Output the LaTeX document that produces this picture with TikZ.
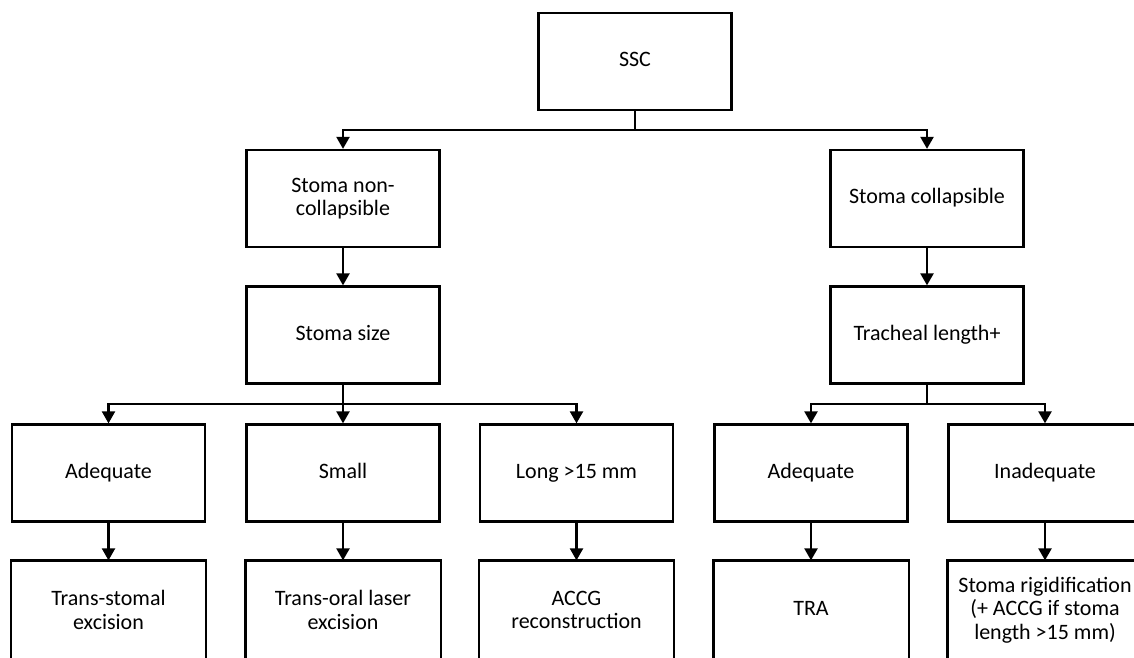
\documentclass[tikz,border=0pt]{standalone}
\usepackage{fontspec}
\setmainfont{Carlito}
\usetikzlibrary{arrows.meta}
\begin{document}
\begin{tikzpicture}[x=1pt,y=-1pt,
  box/.style={draw,line width=2.3pt,minimum width=193pt,minimum height=97pt,align=center,inner sep=0pt,
    font=\fontsize{22}{23.5}\selectfont},
  one/.style={text height=15pt,text depth=5pt},
  lowbox/.style={box,draw=none},
  arr/.style={line width=2.3pt,-{Triangle[width=13pt,length=12pt]}},
  ln/.style={line width=2.3pt}]
\clip (0,0) rectangle (1134,657);
\fill[white] (0,0) rectangle (1134,657);
\node[box,one] (ssc) at (635,61.5) {SSC};
\node[box] (snc) at (343,198.5) {Stoma non-\\collapsible};
\node[box,one] (sc) at (927,198.5) {Stoma collapsible};
\node[box,one] (ssize) at (343,335) {Stoma size};
\node[box,one] (tl) at (927,335) {Tracheal length+};
\node[box,one] (ad1) at (108.5,473) {Adequate};
\node[box,one] (small) at (343,473) {Small};
\node[box,one] (long) at (576.5,473) {Long >15 mm};
\node[box,one] (ad2) at (811,473) {Adequate};
\node[box,one] (inad) at (1045,473) {Inadequate};
\node[lowbox] (tse) at (108.5,610) {Trans-stomal\\excision};
\node[lowbox] (tole) at (343,610) {Trans-oral laser\\excision};
\node[lowbox] (accg) at (576.5,610) {ACCG\\reconstruction};
\node[lowbox,one] (tra) at (811,610) {TRA};
\node[lowbox] (rig) at (1045,610) {Stoma rigidification\\(+ ACCG if stoma\\length >15 mm)};
\foreach \n in {tse,tole,accg,tra,rig}
  \draw[ln] (\n.north west) rectangle ([yshift=-15pt]\n.south east);
\coordinate (b1) at (635,130);
\coordinate (b2) at (343,404);
\coordinate (b3) at (927,404);
\draw[ln] (ssc.south) -- (b1);
\draw[arr] (b1) -| (snc.north);
\draw[arr] (b1) -| (sc.north);
\draw[arr] (snc) -- (ssize);
\draw[arr] (sc) -- (tl);
\draw[arr] (ssize.south) -- (small.north);
\draw[arr] (b2) -| (ad1.north);
\draw[arr] (b2) -| (long.north);
\draw[ln] (tl.south) -- (b3);
\draw[arr] (b3) -| (ad2.north);
\draw[arr] (b3) -| (inad.north);
\draw[arr] (ad1) -- (tse);
\draw[arr] (small) -- (tole);
\draw[arr] (long) -- (accg);
\draw[arr] (ad2) -- (tra);
\draw[arr] (inad) -- (rig);
\end{tikzpicture}
\end{document}
